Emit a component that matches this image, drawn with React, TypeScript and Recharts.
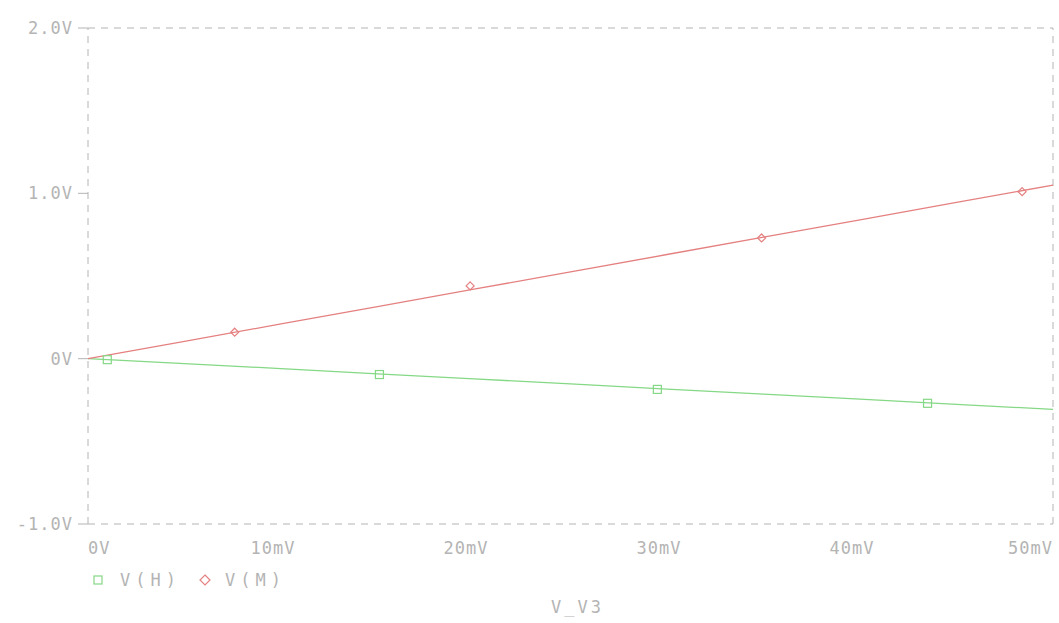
import {
  ComposedChart,
  Line,
  Scatter,
  XAxis,
  YAxis,
  ReferenceLine,
} from 'recharts';

// sweep of V_V3 in mV
const sweep = [0, 5, 10, 15, 20, 25, 30, 35, 40, 45, 50];
const vM = [0, 0.105, 0.21, 0.315, 0.42, 0.525, 0.63, 0.735, 0.84, 0.945, 1.05];
const vH = [0, -0.03, -0.06, -0.092, -0.122, -0.153, -0.184, -0.214, -0.245, -0.276, -0.307];

// PSpice symbol positions along each trace
const markM = [
  { x: 7.6, y: 0.16 },
  { x: 19.8, y: 0.44 },
  { x: 34.9, y: 0.73 },
  { x: 48.4, y: 1.01 },
];
const markH = [
  { x: 1.0, y: -0.006 },
  { x: 15.1, y: -0.096 },
  { x: 29.5, y: -0.186 },
  { x: 43.5, y: -0.27 },
];

const xTicks = [0, 10, 20, 30, 40, 50];
const xTickLabels = ['0V', '10mV', '20mV', '30mV', '40mV', '50mV'];
const yTicks = [-1, 0, 1, 2];
const yTickLabels = ['-1.0V', '0V', '1.0V', '2.0V'];

const RED = '#e58080';
const GREEN = '#85d885';
const GREY = '#b4b4b4';
const FONT = '"DejaVu Sans Mono", monospace';

const data = sweep.map((x, i) => ({ x, vM: vM[i], vH: vH[i] }));

function XTick({ x, y, payload, index }: any) {
  const last = index === xTicks.length - 1;
  const first = index === 0;
  const anchor = first ? 'start' : last ? 'end' : 'middle';
  const dx = first ? 0 : last ? 2 : -8;
  return (
    <text
      x={x + dx}
      y={y + 22}
      textAnchor={anchor}
      fill={GREY}
      fontSize={17}
      letterSpacing={1}
      fontFamily={FONT}
    >
      {xTickLabels[xTicks.indexOf(payload.value)]}
    </text>
  );
}

function YTick({ x, y, payload }: any) {
  return (
    <text
      x={x - 3}
      y={y + 6}
      textAnchor="end"
      fill={GREY}
      fontSize={17}
      letterSpacing={1}
      fontFamily={FONT}
    >
      {yTickLabels[yTicks.indexOf(payload.value)]}
    </text>
  );
}

function Square({ cx, cy }: any) {
  return <rect x={cx - 4} y={cy - 4} width={8} height={8} fill="none" stroke={GREEN} strokeWidth={1.2} />;
}

function Diamond({ cx, cy }: any) {
  return (
    <path
      d={`M${cx},${cy - 4} L${cx + 4},${cy} L${cx},${cy + 4} L${cx - 4},${cy} Z`}
      fill="none"
      stroke={RED}
      strokeWidth={1.2}
    />
  );
}

export default function App() {
  return (
    <div style={{ position: 'absolute', left: 0, top: 0, width: 1059, height: 623, background: '#fff' }}>
      <ComposedChart
        width={1059}
        height={623}
        data={data}
        margin={{ top: 28, right: 6, left: 0, bottom: 69 }}
        style={{ overflow: 'visible' }}
      >
        <XAxis
          dataKey="x"
          type="number"
          domain={[0, 50]}
          ticks={xTicks}
          axisLine={false}
          tickLine={false}
          tick={<XTick />}
          height={30}
        />
        <YAxis
          type="number"
          domain={[-1, 2]}
          ticks={yTicks}
          width={88}
          axisLine={false}
          tickLine={{ stroke: GREY }}
          tickSize={10}
          tick={<YTick />}
        />
        <ReferenceLine y={2} stroke={GREY} strokeDasharray="7 6" />
        <ReferenceLine y={-1} stroke={GREY} strokeDasharray="7 6" />
        <ReferenceLine x={0} stroke={GREY} strokeDasharray="7 6" />
        <ReferenceLine x={50} stroke={GREY} strokeDasharray="7 6" />
        <Line dataKey="vH" type="linear" stroke={GREEN} strokeWidth={1.3} dot={false} isAnimationActive={false} />
        <Line dataKey="vM" type="linear" stroke={RED} strokeWidth={1.3} dot={false} isAnimationActive={false} />
        <Scatter data={markH} dataKey="y" shape={<Square />} isAnimationActive={false} />
        <Scatter data={markM} dataKey="y" shape={<Diamond />} isAnimationActive={false} />
      </ComposedChart>
      <div
        style={{
          position: 'absolute',
          left: 92,
          top: 570,
          fontFamily: FONT,
          fontSize: 17,
          color: GREY,
          whiteSpace: 'pre',
          display: 'flex',
          alignItems: 'center',
        }}
      >
        <svg width={12} height={12} style={{ marginRight: 16 }}>
          <rect x={2} y={2} width={8} height={8} fill="none" stroke={GREEN} strokeWidth={1.2} />
        </svg>
        <span style={{ letterSpacing: 5 }}>V(H)</span>
        <svg width={12} height={12} style={{ marginLeft: 18, marginRight: 14 }}>
          <path d="M6,1 L11,6 L6,11 L1,6 Z" fill="none" stroke={RED} strokeWidth={1.2} />
        </svg>
        <span style={{ letterSpacing: 5 }}>V(M)</span>
      </div>
      <div
        style={{
          position: 'absolute',
          left: 551,
          top: 597,
          fontFamily: FONT,
          fontSize: 17,
          color: GREY,
          letterSpacing: 3,
        }}
      >
        V_V3
      </div>
    </div>
  );
}
